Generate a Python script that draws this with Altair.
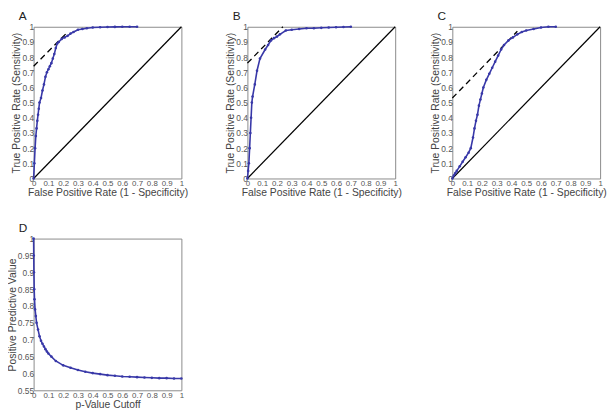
import altair as alt
import pandas as pd

FONT = "Liberation Sans"
BLUE = "#3838a8"

TICKS = [0, 0.1, 0.2, 0.3, 0.4, 0.5, 0.6, 0.7, 0.8, 0.9, 1]
D_YTICKS = [0.55, 0.6, 0.65, 0.7, 0.75, 0.8, 0.85, 0.9, 0.95, 1]

diag_x = [0, 1]
diag_y = [0, 1]

# Panel A
a_fpr = [0, 0.005, 0.01, 0.015, 0.02, 0.025, 0.03, 0.035, 0.04, 0.05, 0.06, 0.07, 0.08,
         0.09, 0.10, 0.11, 0.12, 0.13, 0.14, 0.15, 0.16, 0.17, 0.19, 0.21, 0.23, 0.25,
         0.27, 0.30, 0.33, 0.36, 0.40, 0.45, 0.50, 0.55, 0.60, 0.65, 0.70]
a_tpr = [0, 0.10, 0.20, 0.28, 0.33, 0.38, 0.42, 0.46, 0.50, 0.53, 0.58, 0.62, 0.67,
         0.70, 0.72, 0.74, 0.76, 0.79, 0.82, 0.86, 0.89, 0.90, 0.92, 0.93, 0.94, 0.955,
         0.965, 0.98, 0.985, 0.99, 0.995, 0.997, 0.998, 0.999, 1.0, 1.0, 1.0]
a_dash_x = [0, 0.235]
a_dash_y = [0.74, 0.97]

# Panel B
b_fpr = [0, 0.005, 0.01, 0.015, 0.02, 0.025, 0.03, 0.035, 0.05, 0.065, 0.085, 0.12,
         0.14, 0.16, 0.18, 0.20, 0.22, 0.26, 0.30, 0.35, 0.40, 0.45, 0.50, 0.55, 0.60,
         0.65, 0.70]
b_tpr = [0, 0.05, 0.10, 0.20, 0.30, 0.40, 0.50, 0.54, 0.62, 0.71, 0.79, 0.85,
         0.88, 0.91, 0.925, 0.935, 0.95, 0.975, 0.98, 0.985, 0.99, 0.99, 0.993, 0.995,
         0.997, 0.998, 1.0]
b_dash_x = [0, 0.24]
b_dash_y = [0.76, 1.0]

# Panel C
c_fpr = [0, 0.01, 0.02, 0.03, 0.05, 0.07, 0.09, 0.11, 0.125, 0.14, 0.15, 0.16, 0.17,
         0.18, 0.19, 0.20, 0.21, 0.23, 0.25, 0.27, 0.29, 0.31, 0.33, 0.35, 0.38, 0.41,
         0.44, 0.47, 0.50, 0.55, 0.60, 0.65, 0.70]
c_tpr = [0, 0.02, 0.035, 0.05, 0.08, 0.11, 0.14, 0.17, 0.20, 0.27, 0.33, 0.38, 0.42,
         0.48, 0.52, 0.56, 0.60, 0.65, 0.69, 0.73, 0.77, 0.81, 0.85, 0.88, 0.91, 0.93,
         0.95, 0.965, 0.975, 0.985, 0.995, 1.0, 1.0]
c_dash_x = [0, 0.44]
c_dash_y = [0.53, 0.97]

# Panel D
d_cut = [0, 0.001, 0.002, 0.004, 0.006, 0.01, 0.015, 0.02, 0.03, 0.04, 0.05, 0.06,
         0.07, 0.08, 0.09, 0.10, 0.12, 0.15, 0.20, 0.25, 0.30, 0.35, 0.40, 0.45, 0.50,
         0.55, 0.60, 0.65, 0.70, 0.75, 0.80, 0.85, 0.90, 0.95, 1.0]
d_ppv = [1.0, 0.95, 0.90, 0.85, 0.82, 0.79, 0.77, 0.75, 0.73, 0.71, 0.697, 0.688,
         0.68, 0.672, 0.665, 0.659, 0.65, 0.637, 0.624, 0.617, 0.61, 0.605, 0.601, 0.598,
         0.595, 0.593, 0.591, 0.59, 0.589, 0.588, 0.587, 0.586, 0.586, 0.585, 0.585]

W = 150
H = 154


def enc_xy(xtitle, ytitle, ydomain, yticks):
    x = alt.X("x:Q", scale=alt.Scale(domain=[0, 1], nice=False, zero=False),
              axis=alt.Axis(values=TICKS, format="~g", title=xtitle, labelPadding=1,
                            labelFontSize=8))
    y = alt.Y("y:Q", scale=alt.Scale(domain=ydomain, nice=False, zero=False),
              axis=alt.Axis(values=yticks, format="~g", title=ytitle))
    return x, y


def curve_layer(xs, ys, x, y):
    df = pd.DataFrame({"x": xs, "y": ys, "i": list(range(len(xs)))})
    return alt.Chart(df).mark_line(
        color=BLUE, strokeWidth=1.6,
        point=alt.OverlayMarkDef(color=BLUE, size=7, filled=True, opacity=1),
    ).encode(x=x, y=y, order="i:Q")


def title(letter):
    return alt.TitleParams(letter, anchor="start", frame="group", dx=-15, fontSize=12,
                           fontWeight="normal", offset=0, font=FONT, color="#222")


def roc_panel(letter, fpr, tpr, dx, dy):
    x, y = enc_xy("False Positive Rate (1 - Specificity)",
                  "True Positive Rate (Sensitivity)", [0, 1], TICKS)
    diag = alt.Chart(pd.DataFrame({"x": diag_x, "y": diag_y})).mark_line(
        color="black", strokeWidth=1.2).encode(x=x, y=y)
    dash = alt.Chart(pd.DataFrame({"x": dx, "y": dy})).mark_line(
        color="black", strokeWidth=1.3, strokeDash=[6, 4]).encode(x=x, y=y)
    return alt.layer(diag, dash, curve_layer(fpr, tpr, x, y)).properties(
        width=W, height=H, title=title(letter))


A = roc_panel("A", a_fpr, a_tpr, a_dash_x, a_dash_y)
B = roc_panel("B", b_fpr, b_tpr, b_dash_x, b_dash_y)
C = roc_panel("C", c_fpr, c_tpr, c_dash_x, c_dash_y)

dxe, dye = enc_xy("p-Value Cutoff", "Positive Predictive Value", [0.55, 1], D_YTICKS)
D = curve_layer(d_cut, d_ppv, dxe, dye).properties(width=W, height=H, title=title("D"))

chart = alt.vconcat(
    alt.hconcat(alt.hconcat(A, B, spacing=37), C, spacing=28),
    D,
    spacing=23,
).properties(
    padding={"left": -2, "top": -2, "right": 0, "bottom": 0}
).configure_axis(
    domain=False, ticks=False, grid=False,
    labelFont=FONT, labelFontSize=8.5, labelColor="#555", labelPadding=0,
    labelFlush=False,
    titleFont=FONT, titleFontSize=10.5, titleFontWeight="normal",
    titleColor="#444", titlePadding=0,
).configure_view(stroke="#8a8a8a", strokeWidth=1)

chart.save("out.html", embed_options={"renderer": "svg", "actions": False})
